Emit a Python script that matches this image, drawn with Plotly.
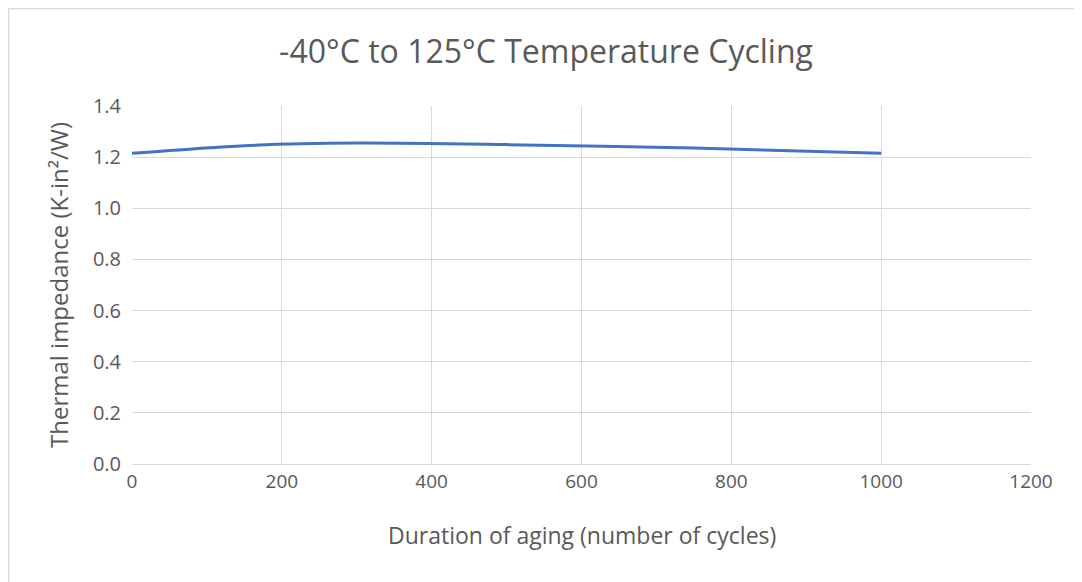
import plotly.graph_objects as go

cycles = [0, 150, 300, 500, 750, 1000]
impedance = [1.215, 1.245, 1.255, 1.249, 1.236, 1.215]

x_ticks = [0, 200, 400, 600, 800, 1000, 1200]
y_ticks = [0.0, 0.2, 0.4, 0.6, 0.8, 1.0, 1.2, 1.4]

# page has an 8px body margin; compensate so plot area lands at page (132..1031, 106..464)
W, H = 1074, 574
L, T = 124, 98
pw, ph = 899, 358
R, B = W - L - pw, H - T - ph

FONT = "Open Sans, sans-serif"
GREY = "#595959"

fig = go.Figure()
fig.add_trace(go.Scatter(x=cycles, y=impedance, mode="lines",
                         line=dict(color="#4472C4", width=3, shape="spline", smoothing=0.8),
                         showlegend=False))

fig.update_layout(
    width=W, height=H,
    margin=dict(l=L, r=R, t=T, b=B),
    paper_bgcolor="white", plot_bgcolor="white",
    title=dict(text="-40°C to 125°C Temperature Cycling", x=538 / W, xanchor="center",
               y=1 - 44 / H, yanchor="middle",
               font=dict(family=FONT, size=32, color=GREY)),
    xaxis=dict(range=[0, 1200], tickvals=x_ticks, ticktext=[str(v) for v in x_ticks],
               showgrid=True, gridcolor="#d9d9d9", gridwidth=1,
               showline=True, linecolor="#d9d9d9", zeroline=False,
               ticks="", ticklabelstandoff=0,
               tickfont=dict(family=FONT, size=19, color=GREY)),
    yaxis=dict(range=[0, 1.4], tickvals=y_ticks, ticktext=[f"{v:.1f}" for v in y_ticks],
               showgrid=True, gridcolor="#d9d9d9", gridwidth=1,
               showline=False, zeroline=False, ticks="", ticklabelstandoff=10,
               tickfont=dict(family=FONT, size=20, color=GREY)),
)

fig.add_annotation(text="Thermal impedance (K-in²/W)", xref="paper", yref="paper",
                   x=(50 - L) / pw, y=0.5, textangle=-90, showarrow=False,
                   xanchor="center", yanchor="middle",
                   font=dict(family=FONT, size=24, color=GREY))
fig.add_annotation(text="Duration of aging (number of cycles)", xref="paper", yref="paper",
                   x=0.5, y=(T + ph - 527) / ph, showarrow=False,
                   xanchor="center", yanchor="middle",
                   font=dict(family=FONT, size=23, color=GREY))

# chart frame: only top and left edges are visible in the reference
x_left = (0.5 - L) / pw
y_top = (T + ph - 0.5) / ph
y_bot = (T + ph - H) / ph
x_right = (W - L) / pw
fig.add_shape(type="line", xref="paper", yref="paper", x0=x_left, x1=x_left, y0=y_bot, y1=y_top,
              line=dict(color="#d9d9d9", width=1.5), layer="below")
fig.add_shape(type="line", xref="paper", yref="paper", x0=x_left, x1=x_right, y0=y_top, y1=y_top,
              line=dict(color="#d9d9d9", width=1.5), layer="below")

fig.write_html("out.html")
